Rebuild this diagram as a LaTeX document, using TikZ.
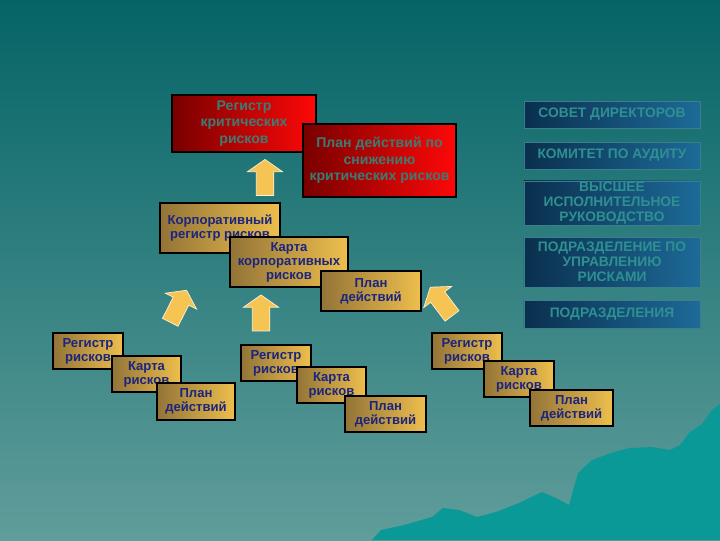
\documentclass[tikz,border=0pt]{standalone}
\usepackage{fontspec}
\setmainfont{Liberation Sans}
\usetikzlibrary{shapes.arrows}

\definecolor{bgtop}{HTML}{056466}
\definecolor{bgbot}{HTML}{609D9B}
\definecolor{hill}{HTML}{0B9997}
\definecolor{reddark}{HTML}{780000}
\definecolor{redlight}{HTML}{FF0808}
\definecolor{redtext}{HTML}{3E7B73}
\definecolor{navydark}{HTML}{0A2F4E}
\definecolor{navylight}{HTML}{1D6A98}
\definecolor{navyedge}{HTML}{3C7E8E}
\definecolor{navytext}{HTML}{2F9090}
\definecolor{golddark}{HTML}{937437}
\definecolor{goldlight}{HTML}{EEBF4D}
\definecolor{goldtext}{HTML}{1B2580}
\definecolor{arrowfill}{HTML}{F6C453}

\tikzset{
	redbox/.style={
			draw=black, line width=0.8pt, left color=reddark, right color=redlight,
			text=redtext, font=\fontsize{10}{11.8}\selectfont\bfseries,
			align=center, inner sep=0pt
		},
	boardbox/.style={
			draw=navyedge, line width=0.4pt, left color=navydark, right color=navylight,
			text=navytext, font=\fontsize{9.8}{10.8}\selectfont\bfseries,
			align=center, inner sep=0pt, minimum width=4.4cm
		},
	riskbox/.style={
			draw=black, line width=0.8pt, left color=golddark, right color=goldlight,
			text=goldtext, font=\fontsize{9.3}{10}\selectfont\bfseries,
			align=center, inner sep=0pt
		},
	uparrow/.style={
			single arrow, fill=arrowfill, draw=white!75!arrowfill, line width=0.5pt,
			inner xsep=0pt, inner ysep=0.21cm, single arrow head extend=0.22cm,
			single arrow tip angle=110, minimum height=0.9cm, minimum width=0.1cm
		}
}

\begin{document}
\begin{tikzpicture}[x=0.025cm, y=-0.025cm]
		% Background and hills
		\useasboundingbox (0,0) rectangle (720,540);
		\shade[top color=bgtop, bottom color=bgbot] (0,0) rectangle (720,540);
		\fill[hill] (372,540) -- (381,530) -- (404,525) -- (432,517) -- (443,508) -- (459,510)
		-- (477,517) -- (496,512) -- (519,503) -- (542,492) -- (556,498) -- (569,505)
		-- (574,487) -- (578,473) -- (592,460) -- (611,453) -- (629,448) -- (652,447)
		-- (670,450) -- (680,445) -- (689,433) -- (702,424) -- (712,410) -- (720,404)
		-- (720,540) -- cycle;

		% Critical risks
		\node[redbox, minimum width=3.6cm, minimum height=1.425cm] (critreg) at (244,123.5) {Регистр\\критических\\рисков};
		\node[redbox, minimum width=3.825cm, minimum height=1.825cm] (critplan) at (379.5,160.5) {План действий по\\снижению\\критических рисков};

		% Governance column
		\node[boardbox, minimum height=0.675cm] (board) at (612,114.5) {СОВЕТ ДИРЕКТОРОВ};
		\node[boardbox, minimum height=0.675cm] (audit) at (612,155.5) {КОМИТЕТ ПО АУДИТУ};
		\node[boardbox, minimum height=1.1cm] (execs) at (612,203) {ВЫСШЕЕ\\ИСПОЛНИТЕЛЬНОЕ\\РУКОВОДСТВО};
		\node[boardbox, minimum height=1.25cm] (riskdept) at (612,262) {ПОДРАЗДЕЛЕНИЕ ПО\\УПРАВЛЕНИЮ\\РИСКАМИ};
		\node[boardbox, minimum height=0.7cm] (units) at (612,314) {ПОДРАЗДЕЛЕНИЯ};

		% Corporate level
		\node[riskbox, minimum width=3cm, minimum height=1.25cm] (corpreg) at (220,228) {Корпоративный\\регистр рисков};
		\node[riskbox, minimum width=2.95cm, minimum height=1.25cm] (corpmap) at (289,262) {Карта\\корпоративных\\рисков};
		\node[riskbox, minimum width=2.5cm, minimum height=1cm] (corpplan) at (371,291) {План\\действий};

		% Unit level, left
		\node[riskbox, minimum width=1.75cm, minimum height=0.9cm] (leftreg) at (88,351) {Регистр\\рисков};
		\node[riskbox, minimum width=1.725cm, minimum height=0.9cm] (leftmap) at (146.5,374) {Карта\\рисков};
		\node[riskbox, minimum width=1.95cm, minimum height=0.925cm] (leftplan) at (196,401.5) {План\\действий};

		% Unit level, middle
		\node[riskbox, minimum width=1.75cm, minimum height=0.9cm] (midreg) at (276,363) {Регистр\\рисков};
		\node[riskbox, minimum width=1.725cm, minimum height=0.9cm] (midmap) at (331.5,385) {Карта\\рисков};
		\node[riskbox, minimum width=2.025cm, minimum height=0.9cm] (midplan) at (385.5,414) {План\\действий};

		% Unit level, right
		\node[riskbox, minimum width=1.75cm, minimum height=0.9cm] (rightreg) at (467,351) {Регистр\\рисков};
		\node[riskbox, minimum width=1.75cm, minimum height=0.9cm] (rightmap) at (519,379) {Карта\\рисков};
		\node[riskbox, minimum width=2.075cm, minimum height=0.9cm] (rightplan) at (571.5,408) {План\\действий};

		% Block arrows
		\node[uparrow, rotate=90] (uptop) at (265,180.5) {};
		\node[uparrow, rotate=63] (upleft) at (177,309) {};
		\node[uparrow, rotate=90] (upmid) at (261,316) {};
		\node[uparrow, rotate=127] (upright) at (443,304) {};
	\end{tikzpicture}
\end{document}
